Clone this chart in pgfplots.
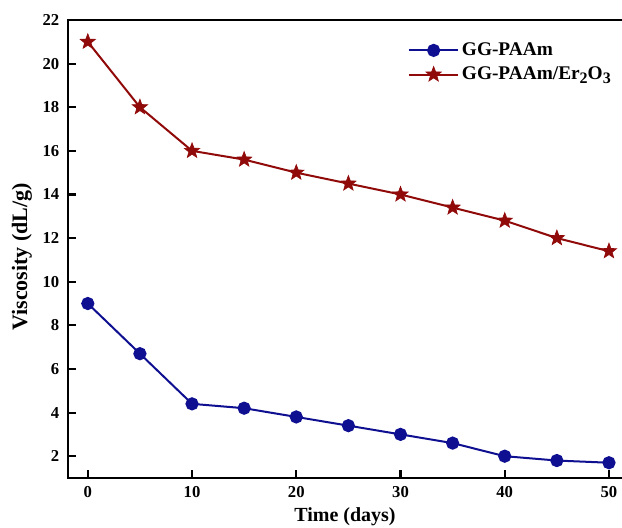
\documentclass[border=0pt]{standalone}
\usepackage{fontspec}
\setmainfont{Liberation Serif}
\usepackage{pgfplots}
\pgfplotsset{compat=1.18}
\definecolor{gblue}{RGB}{15,15,145}
\definecolor{gred}{RGB}{145,10,10}
\newcommand{\bigsub}[1]{\raisebox{-0.45ex}{\fontsize{12}{14}\selectfont #1}}
% filled five-point star
\pgfdeclareplotmark{fstar}{%
  \pgfpathmoveto{\pgfpointpolar{90}{\pgfplotmarksize}}%
  \pgfpathlineto{\pgfpointpolar{126}{0.42\pgfplotmarksize}}%
  \pgfpathlineto{\pgfpointpolar{162}{\pgfplotmarksize}}%
  \pgfpathlineto{\pgfpointpolar{198}{0.42\pgfplotmarksize}}%
  \pgfpathlineto{\pgfpointpolar{234}{\pgfplotmarksize}}%
  \pgfpathlineto{\pgfpointpolar{270}{0.42\pgfplotmarksize}}%
  \pgfpathlineto{\pgfpointpolar{306}{\pgfplotmarksize}}%
  \pgfpathlineto{\pgfpointpolar{342}{0.42\pgfplotmarksize}}%
  \pgfpathlineto{\pgfpointpolar{18}{\pgfplotmarksize}}%
  \pgfpathlineto{\pgfpointpolar{54}{0.42\pgfplotmarksize}}%
  \pgfpathclose\pgfusepathqfillstroke}
\begin{document}
\begin{tikzpicture}
\begin{axis}[
  name=ax,
  scale only axis,
  width=415.5pt, height=343.5pt,
  xmin=-1.9, xmax=51.25,
  ymin=1, ymax=22,
  clip=false,
  axis line style={draw=none},
  xtick={0,10,20,30,40,50},
  ytick={2,4,...,22},
  xtick pos=bottom, ytick pos=left,
  tick align=inside,
  major tick length=6pt,
  tick style={line width=1.6pt,black},
  /pgf/number format/assume math mode=true,
  ticklabel style={font=\fontsize{12.5}{15}\selectfont\bfseries},
  yticklabel style={xshift=-3pt},
  xticklabel style={yshift=-3pt},
  label style={font=\fontsize{15}{18}\selectfont\bfseries},
  xlabel={Time (days)},
  ylabel={Viscosity (dL/g)},
  xlabel style={at={(axis description cs:0.5,-0.085)}, anchor=center},
  ylabel style={at={(axis description cs:-0.083,0.483)}, anchor=center,
    font=\fontsize{16.5}{19}\selectfont\bfseries},
  legend style={draw=none, fill=none, at={(0.606,0.962)}, anchor=north west,
    font=\fontsize{14.5}{17}\selectfont\bfseries, row sep=3pt},
  legend cell align=left,
  legend image code/.code={
    \draw[mark repeat=2,mark phase=2] plot coordinates {(0cm,0cm) (0.65cm,0cm) (1.3cm,0cm)};},
]
\addplot[color=gblue, line width=1.5pt, mark=*, mark size=4.2pt, mark options={fill=gblue}] coordinates {
(0,9.0) (5,6.7) (10,4.4) (15,4.2) (20,3.8) (25,3.4) (30,3.0) (35,2.6) (40,2.0) (45,1.8) (50,1.7)};
\addlegendentry{GG-PAAm}
\addplot[color=gred, line width=1.5pt, mark=fstar, mark size=6pt, mark options={fill=gred,line width=0.5pt}] coordinates {
(0,21) (5,18) (10,16) (15,15.6) (20,15) (25,14.5) (30,14) (35,13.4) (40,12.8) (45,12) (50,11.4)};
\addlegendentry{GG-PAAm/Er\bigsub{2}O\bigsub{3}}
% frame: top, left and bottom (right side is cut off in the source)
\draw[line width=1.6pt, line cap=rect] (rel axis cs:1.05,1) -- (rel axis cs:0,1) -- (rel axis cs:0,0) -- (rel axis cs:1.05,0);
\end{axis}
\pgfresetboundingbox
\path ([shift={(-51pt,-37.5pt)}]ax.south west) rectangle ([shift={(0pt,15pt)}]ax.north east);
\end{tikzpicture}
\end{document}
